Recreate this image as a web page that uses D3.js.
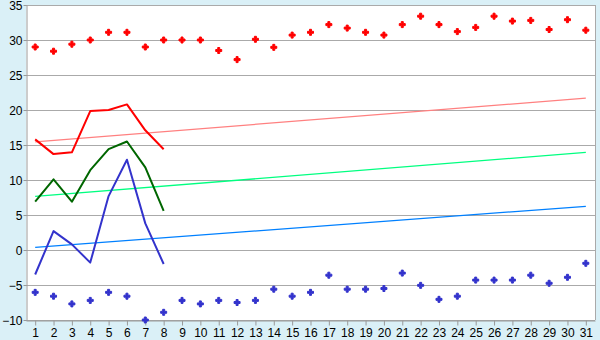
<!DOCTYPE html>
<html>
<head>
<meta charset="utf-8">
<script src="https://cdn.jsdelivr.net/npm/d3@7"></script>
<style>
body { margin: 0; background: #daf0f7; }
svg { display: block; font-family: "DejaVu Sans", Verdana, sans-serif; }
.grid line { stroke: #aaaaaa; }
.axis text { font-size: 12px; fill: #000; }
</style>
</head>
<body>
<svg class="chartsvg" width="600" height="340"></svg>
<script>
var days = d3.range(1, 32);
var yTicks = [-10, -5, 0, 5, 10, 15, 20, 25, 30, 35];

// daily maxima / minima (scatter)
var highs = [29, 28.4, 29.4, 30, 31.1, 31.1, 29, 30, 30, 30, 28.5, 27.2, 30.1, 28.95, 30.7, 31.1,
             32.2, 31.7, 31.1, 30.7, 32.2, 33.4, 32.2, 31.2, 31.8, 33.4, 32.7, 32.8, 31.5, 32.9, 31.4];
var lows = [-6.05, -6.6, -7.7, -7.2, -6.05, -6.6, -10, -8.9, -7.2, -7.7, -7.2, -7.5, -7.2, -5.6, -6.6, -6.05,
            -3.6, -5.6, -5.6, -5.5, -3.3, -5.05, -7.05, -6.6, -4.3, -4.3, -4.3, -3.6, -4.75, -3.9, -1.9];

// first eight days, lines
var redLine = [15.8, 13.7, 13.95, 19.85, 20, 20.8, 17.1, 14.4];
var greenLine = [6.9, 10.1, 6.9, 11.4, 14.4, 15.5, 11.8, 5.6];
var blueLine = [-3.5, 2.7, 0.8, -1.8, 7.7, 12.9, 3.8, -2];

// trend lines, value at day 1 and day 31
var redTrend = [15.45, 21.7];
var greenTrend = [7.65, 13.95];
var blueTrend = [0.38, 6.24];

var margin = {top: 5, right: 5, bottom: 20, left: 26};
var width = 600 - margin.left - margin.right;
var height = 340 - margin.top - margin.bottom;

var svg = d3.select(".chartsvg");
var g = svg.append("g")
    .attr("transform", "translate(" + margin.left + "," + margin.top + ")");

var x = d3.scalePoint()
    .domain(days)
    .range([0, width])
    .padding(0.5);

var y = d3.scaleLinear()
    .domain([-10, 35])
    .range([height, 0]);

g.append("rect")
    .attr("width", width)
    .attr("height", height)
    .attr("fill", "#fff");

// gridlines
g.append("g")
    .attr("class", "grid")
    .selectAll("line")
    .data(yTicks)
    .enter().append("line")
    .attr("x1", 0)
    .attr("x2", width)
    .attr("y1", function(d) { return Math.round(y(d)) + 0.5; })
    .attr("y2", function(d) { return Math.round(y(d)) + 0.5; })
    .attr("stroke-width", 1);

// frame
g.append("line")
    .attr("x1", width + 0.5).attr("x2", width + 0.5)
    .attr("y1", 0).attr("y2", height)
    .attr("stroke", "#aaaaaa");

// axes
var yAxis = g.append("g")
    .attr("class", "axis")
    .attr("transform", "translate(0.5,0)")
    .call(d3.axisLeft(y).tickValues(yTicks).tickSize(3).tickSizeOuter(0));
yAxis.selectAll("text").attr("x", -4).attr("dy", "0.35em");

var xAxis = g.append("g")
    .attr("class", "axis")
    .attr("transform", "translate(0," + (height + 0.5) + ")")
    .call(d3.axisBottom(x).tickSize(5).tickSizeOuter(0));
xAxis.selectAll("text").attr("y", 8);
g.selectAll(".axis path, .axis line").attr("stroke", "#999999");

// trend lines
function addTrend(vals, colour) {
    g.append("line")
        .attr("x1", x(1)).attr("y1", y(vals[0]))
        .attr("x2", x(31)).attr("y2", y(vals[1]))
        .attr("stroke", colour)
        .attr("stroke-width", 1.3);
}
addTrend(redTrend, "#ff8080");
addTrend(greenTrend, "#00ff80");
addTrend(blueTrend, "#0080ff");

// day lines
var line = d3.line()
    .x(function(d, i) { return x(days[i]); })
    .y(function(d) { return y(d); });

function addLine(vals, colour) {
    g.append("path")
        .datum(vals)
        .attr("d", line)
        .attr("fill", "none")
        .attr("stroke", colour)
        .attr("stroke-width", 2)
        .attr("stroke-linejoin", "round");
}
addLine(redLine, "#ff0000");
addLine(greenLine, "#006600");
addLine(blueLine, "#3333cc");

// scatter markers
var cross = d3.symbol().type(d3.symbolCross).size(20);
function addPoints(vals, colour) {
    g.append("g").selectAll("path")
        .data(vals)
        .enter().append("path")
        .attr("d", cross)
        .attr("transform", function(d, i) { return "translate(" + x(days[i]) + "," + y(d) + ")"; })
        .attr("fill", colour)
        .attr("stroke", colour)
        .attr("stroke-width", 1);
}
addPoints(highs, "#ff0000");
addPoints(lows, "#3333cc");
</script>
</body>
</html>
